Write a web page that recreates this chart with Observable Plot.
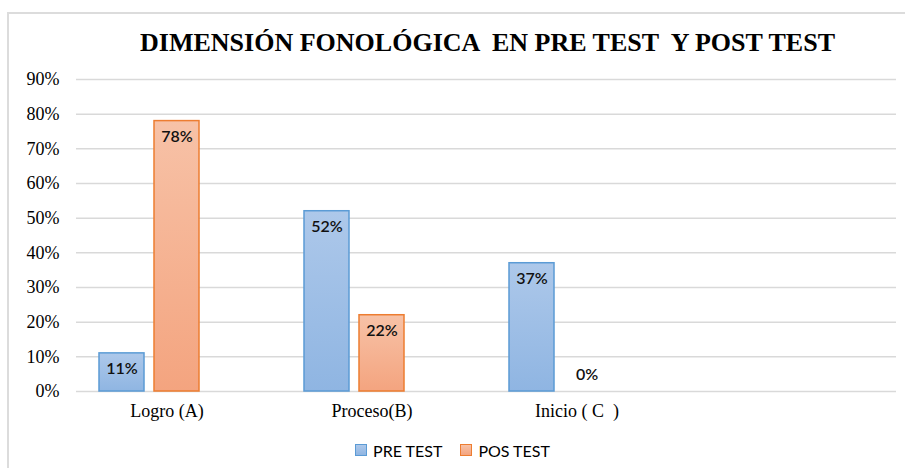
<!DOCTYPE html>
<html>
<head>
<meta charset="utf-8">
<script src="https://cdn.jsdelivr.net/npm/d3@7"></script>
<script src="https://cdn.jsdelivr.net/npm/@observablehq/plot@0.6"></script>
<style>
  html, body { margin: 0; padding: 0; background: #fff; }
  #wrap { position: relative; width: 905px; height: 468px; overflow: hidden; }
  #border { position: absolute; left: 7px; top: 12px; width: 910px; height: 470px;
            border-left: 2px solid #dcdcdc; border-top: 2px solid #dcdcdc; }
  #title { position: absolute; left: 140px; top: 28px; white-space: pre;
           font-weight: bold; font-size: 26px; font-family: "Liberation Serif", "DejaVu Serif", serif;
           color: #000; transform-origin: 0 0; line-height: 30px; }
  #chart { position: absolute; left: 0; top: 60px; }
  #legend { position: absolute; left: 0; width: 905px; top: 440px; text-align: center;
            font-size: 16px; font-family: Lato, "Open Sans", sans-serif; color: #000; }
  #legend span.item { display: inline-flex; align-items: center; margin: 0 9px; }
  #legend span.sw { display: inline-block; width: 10px; height: 10px; margin-right: 6px; }
</style>
</head>
<body>
<div id="wrap">
  <div id="border"></div>
  <div id="title">DIMENSIÓN FONOLÓGICA  EN PRE TEST  Y POST TEST</div>
  <div id="chart"></div>
  <div id="legend"></div>
</div>
<script>
const categories = ["Logro (A)", "Proceso(B)", "Inicio ( C  )", " "];
const seriesNames = ["PRE TEST", "POS TEST"];
const preTest = [0.11, 0.52, 0.37];
const posTest = [0.78, 0.22, 0.00];
const yTicks = [0, 0.1, 0.2, 0.3, 0.4, 0.5, 0.6, 0.7, 0.8, 0.9];
const strokeColors = ["#5b9bd5", "#ed7d31"];
const gradTop = ["#adc8ea", "#f7c2a7"];
const gradBottom = ["#8fb5e2", "#f4a47f"];

const rows = [];
categories.slice(0, 3).forEach((c, i) => {
  rows.push({cat: c, serie: seriesNames[0], v: preTest[i]});
  rows.push({cat: c, serie: seriesNames[1], v: posTest[i]});
});
const gridRows = categories.flatMap(c => yTicks.map(t => ({cat: c, t})));

const defs = () => {
  const ns = "http://www.w3.org/2000/svg";
  const d = document.createElementNS(ns, "defs");
  seriesNames.forEach((s, k) => {
    const g = document.createElementNS(ns, "linearGradient");
    g.setAttribute("id", "grad" + k);
    g.setAttribute("x1", "0"); g.setAttribute("y1", "0");
    g.setAttribute("x2", "0"); g.setAttribute("y2", "1");
    const s1 = document.createElementNS(ns, "stop");
    s1.setAttribute("offset", "0%"); s1.setAttribute("stop-color", gradTop[k]);
    const s2 = document.createElementNS(ns, "stop");
    s2.setAttribute("offset", "100%"); s2.setAttribute("stop-color", gradBottom[k]);
    g.appendChild(s1); g.appendChild(s2); d.appendChild(g);
  });
  return d;
};

const pct = d => Math.round(d * 100) + "%";
const serif = "'Liberation Serif', 'DejaVu Serif', serif";
const sans = "Lato, 'Open Sans', sans-serif";

const chart = Plot.plot({
  width: 905,
  height: 370,
  marginLeft: 74,
  marginRight: 8,
  marginTop: 19,
  marginBottom: 39,
  fx: {domain: categories, paddingInner: 0, paddingOuter: 0, label: null},
  x: {domain: seriesNames, paddingInner: 0.179, paddingOuter: 0.929, align: 0.22, axis: null},
  y: {domain: [0, 0.9], label: null},
  style: {background: "transparent", fontFamily: serif},
  marks: [
    defs,
    Plot.ruleY(gridRows, {fx: "cat", y: "t", stroke: "#d9d9d9", strokeWidth: 1.5}),
    ...seriesNames.map((s, k) => Plot.barY(rows.filter(r => r.serie === s && r.v > 0), {
      fx: "cat", x: "serie", y: "v",
      fill: `url(#grad${k})`, stroke: strokeColors[k], strokeWidth: 1.5
    })),
    Plot.text(rows.filter(r => r.v > 0), {
      fx: "cat", x: "serie", y: "v", text: d => pct(d.v), dy: 16,
      fontSize: 16, fontWeight: 600, fill: "#111", fontFamily: sans
    }),
    Plot.text(rows.filter(r => r.v === 0), {
      fx: "cat", x: "serie", y: "v", text: d => pct(d.v), dy: -17,
      fontSize: 16, fontWeight: 600, fill: "#111", fontFamily: sans
    }),
    Plot.axisY(yTicks, {
      tickFormat: d => Math.round(d * 100) + "%", tickSize: 0, tickPadding: 17,
      fontSize: 18, fontFamily: serif, fill: "#000", label: null
    }),
    Plot.axisFx({
      anchor: "bottom", tickSize: 0, tickPadding: 13, dx: -12, fontSize: 18,
      fontFamily: serif, fill: "#000", label: null
    })
  ]
});
document.getElementById("chart").appendChild(chart);

const legend = document.getElementById("legend");
seriesNames.forEach((s, k) => {
  const item = document.createElement("span");
  item.className = "item";
  const sw = document.createElement("span");
  sw.className = "sw";
  sw.style.background = `linear-gradient(${gradTop[k]}, ${gradBottom[k]})`;
  sw.style.border = `1.5px solid ${strokeColors[k]}`;
  item.appendChild(sw);
  item.appendChild(document.createTextNode(s));
  legend.appendChild(item);
});

const title = document.getElementById("title");
const w = title.getBoundingClientRect().width;
title.style.transform = `scaleX(${695 / w})`;
</script>
</body>
</html>
